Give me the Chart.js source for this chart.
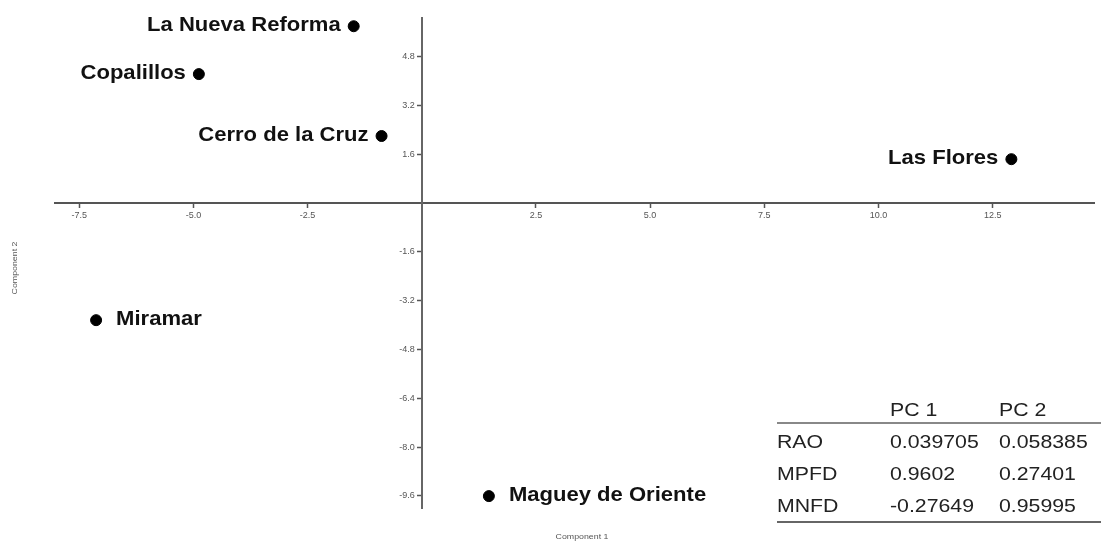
<!DOCTYPE html>
<html>
<head>
<meta charset="utf-8">
<script src="https://cdn.jsdelivr.net/npm/chart.js@4"></script>
<style>
  body { margin: 0; background: #fff; }
  #wrap { width: 1101px; height: 544px; position: relative; }
</style>
</head>
<body>
<div id="wrap"><canvas id="pca-chart"></canvas></div>
<script>
// site scores on the first two components
let siteNames = ['La Nueva Reforma', 'Copalillos', 'Cerro de la Cruz', 'Las Flores', 'Miramar', 'Maguey de Oriente']
let pc1Scores = [-1.49, -4.88, -0.88, 12.91, -7.13, 1.47]
let pc2Scores = [5.80, 4.23, 2.20, 1.44, -3.84, -9.61]

// tick labels shown on the crossing axes
let xTicks = [-7.5, -5.0, -2.5, 2.5, 5.0, 7.5, 10.0, 12.5]
let yTicks = [4.8, 3.2, 1.6, -1.6, -3.2, -4.8, -6.4, -8.0, -9.6]

// loadings table
let loadingVars = ['RAO', 'MPFD', 'MNFD']
let loadingHeaders = ['PC 1', 'PC 2']
let pc1Loadings = ['0.039705', '0.9602', '-0.27649']
let pc2Loadings = ['0.058385', '0.27401', '0.95995']

let points = siteNames.map((name, i) => ({x: pc1Scores[i], y: pc2Scores[i]}))

// draw text stretched sideways like the original picture
function wideText(ctx, txt, x, y, align, sx) {
    ctx.save()
    ctx.translate(x, y)
    ctx.scale(sx, 1)
    ctx.textAlign = align
    ctx.fillText(txt, 0, 0)
    ctx.restore()
}

// names next to the dots
let siteLabels = {
    id: 'siteLabels',
    afterDatasetsDraw(chart) {
        let ctx = chart.ctx
        let meta = chart.getDatasetMeta(0)
        ctx.save()
        ctx.font = 'bold 21px "Liberation Sans", Arial, sans-serif'
        ctx.fillStyle = '#111'
        ctx.textBaseline = 'middle'
        meta.data.forEach((pt, i) => {
            if (pc2Scores[i] < 0) {
                wideText(ctx, siteNames[i], pt.x + 20, pt.y - 1, 'left', 1.05)
            } else {
                wideText(ctx, siteNames[i], pt.x - 13, pt.y - 1, 'right', 1.05)
            }
        })
        ctx.restore()
    }
}

// y tick labels (chart.js puts them on top of a centred axis), axis titles, loadings table
let extras = {
    id: 'extras',
    afterDraw(chart) {
        let ctx = chart.ctx
        let xs = chart.scales.x
        let ys = chart.scales.y
        let axisX = xs.getPixelForValue(0)
        ctx.save()
        ctx.fillStyle = '#555'
        ctx.font = '9px "Liberation Sans", Arial, sans-serif'
        ctx.textBaseline = 'middle'
        yTicks.forEach(v => {
            wideText(ctx, v.toFixed(1), axisX - 7, ys.getPixelForValue(v), 'right', 1)
        })

        ctx.font = '8px "Liberation Sans", Arial, sans-serif'
        wideText(ctx, 'Component 1', 582, 537, 'center', 1.1)
        ctx.save()
        ctx.translate(15, 268)
        ctx.rotate(-Math.PI / 2)
        wideText(ctx, 'Component 2', 0, 0, 'center', 1.1)
        ctx.restore()

        // table
        let col0 = 777, col1 = 890, col2 = 999
        ctx.fillStyle = '#222'
        ctx.font = '19px "Liberation Sans", Arial, sans-serif'
        wideText(ctx, loadingHeaders[0], col1, 411, 'left', 1.12)
        wideText(ctx, loadingHeaders[1], col2, 411, 'left', 1.12)
        ctx.fillStyle = '#888'
        ctx.fillRect(777, 422, 324, 2)
        ctx.fillStyle = '#222'
        loadingVars.forEach((v, i) => {
            let y = 443 + i * 32
            wideText(ctx, v, col0, y, 'left', 1.12)
            wideText(ctx, pc1Loadings[i], col1, y, 'left', 1.12)
            wideText(ctx, pc2Loadings[i], col2, y, 'left', 1.12)
        })
        ctx.fillStyle = '#666'
        ctx.fillRect(777, 521, 324, 2)
        ctx.restore()
    }
}

let ctx = document.getElementById('pca-chart').getContext('2d')
let pcaChart = new Chart(ctx, {
    type: 'scatter',
    data: {
        datasets: [{
            data: points,
            backgroundColor: '#000',
            borderColor: '#000',
            pointRadius: 5.5,
            pointHoverRadius: 5.5
        }]
    },
    options: {
        responsive: true,
        maintainAspectRatio: false,
        animation: false,
        layout: {padding: {left: 55, right: 0, top: 18, bottom: 36}},
        plugins: {legend: {display: false}, tooltip: {enabled: false}},
        scales: {
            x: {
                type: 'linear',
                position: {y: 0},
                min: -8.03,
                max: 14.73,
                afterBuildTicks: axis => { axis.ticks = xTicks.map(v => ({value: v})) },
                grid: {drawOnChartArea: false, drawTicks: true, tickLength: 4, tickColor: '#555', tickWidth: 1.5},
                border: {display: true, color: '#555', width: 2},
                ticks: {
                    color: '#555',
                    font: {size: 9, family: '"Liberation Sans", Arial, sans-serif'},
                    padding: 3,
                    maxRotation: 0,
                    callback: v => v.toFixed(1)
                }
            },
            y: {
                type: 'linear',
                position: {x: 0},
                min: -10.0,
                max: 6.07,
                afterBuildTicks: axis => { axis.ticks = yTicks.map(v => ({value: v})) },
                grid: {drawOnChartArea: false, drawTicks: true, tickLength: 4, tickColor: '#555', tickWidth: 1.5},
                border: {display: true, color: '#666', width: 2},
                ticks: {display: false}
            }
        }
    },
    plugins: [siteLabels, extras]
})
</script>
</body>
</html>
